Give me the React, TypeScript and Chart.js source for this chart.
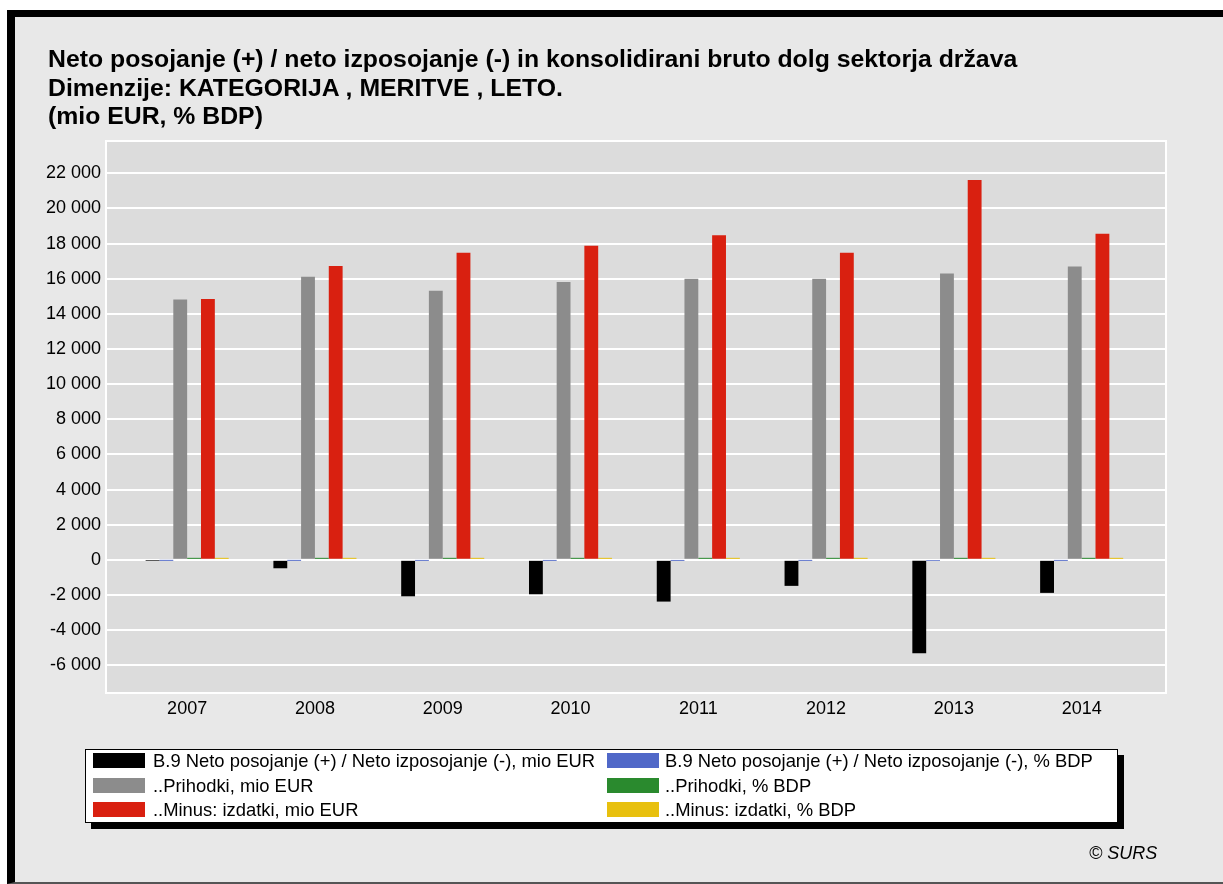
import React, { useEffect, useRef } from "react";
import { Chart, registerables } from "chart.js";

Chart.register(...registerables);

// ---- data ----
const years = ["2007", "2008", "2009", "2010", "2011", "2012", "2013", "2014"];
const netLendingEur = [-20, -480, -2075, -1960, -2377, -1482, -5322, -1881];
const netLendingPct = [-0.1, -1.4, -5.8, -5.6, -6.6, -4.0, -14.7, -5.0];
const revenueEur = [14820, 16110, 15310, 15810, 16000, 16000, 16300, 16700];
const revenuePct = [42.4, 42.4, 42.3, 43.3, 43.6, 44.5, 45.1, 44.8];
const expenditureEur = [14840, 16720, 17480, 17880, 18470, 17480, 21620, 18560];
const expenditurePct = [42.5, 43.8, 48.1, 48.9, 50.2, 48.5, 59.8, 49.8];
const yTickValues = [-6000, -4000, -2000, 0, 2000, 4000, 6000, 8000, 10000, 12000, 14000, 16000, 18000, 20000, 22000];

const seriesLabels = [
  "B.9 Neto posojanje (+) / Neto izposojanje (-), mio EUR",
  "B.9 Neto posojanje (+) / Neto izposojanje (-), % BDP",
  "..Prihodki, mio EUR",
  "..Prihodki, % BDP",
  "..Minus: izdatki, mio EUR",
  "..Minus: izdatki, % BDP",
];
const seriesValues = [netLendingEur, netLendingPct, revenueEur, revenuePct, expenditureEur, expenditurePct];
const seriesColors = ["#000000", "#5068c8", "#8c8c8c", "#2a8a2e", "#d92010", "#e8c00e"];
const seriesMinLen = [0, 0, 0, 2, 0, 2];

const titleLines = [
  "Neto posojanje (+) / neto izposojanje (-) in konsolidirani bruto dolg sektorja država",
  "Dimenzije: KATEGORIJA , MERITVE , LETO.",
  "(mio EUR, % BDP)",
];

const FONT = '"Liberation Sans", Arial, Helvetica, sans-serif';

function fmt(v: number): string {
  const s = Math.abs(v).toString().replace(/\B(?=(\d{3})+(?!\d))/g, " ");
  return (v < 0 ? "-" : "") + s;
}

const plotBg = {
  id: "plotBg",
  beforeDraw(chart: any) {
    const { ctx, chartArea } = chart;
    ctx.save();
    ctx.fillStyle = "#dcdcdc";
    ctx.fillRect(chartArea.left, chartArea.top, chartArea.right - chartArea.left, chartArea.bottom - chartArea.top);
    ctx.restore();
  },
  beforeDatasetsDraw(chart: any) {
    const { ctx, chartArea } = chart;
    ctx.save();
    ctx.strokeStyle = "#ffffff";
    ctx.lineWidth = 2;
    ctx.strokeRect(chartArea.left, chartArea.top, chartArea.right - chartArea.left, chartArea.bottom - chartArea.top);
    ctx.restore();
  },
};

export default function App() {
  const ref = useRef<HTMLCanvasElement>(null);

  useEffect(() => {
    if (!ref.current) return;
    const chart = new Chart(ref.current, {
      type: "bar",
      data: {
        datasets: seriesLabels.map((label, i) => ({
          label,
          data: seriesValues[i].map((v, j) => ({ x: Number(years[j]), y: v })),
          backgroundColor: seriesColors[i],
          borderWidth: 0,
          minBarLength: seriesMinLen[i],
          categoryPercentage: 0.65,
          barPercentage: 1.0,
        })),
      },
      options: {
        responsive: false,
        devicePixelRatio: 1,
        animation: false,
        layout: { padding: { top: 141, right: 57, left: 0, bottom: 0 } },
        plugins: { legend: { display: false }, tooltip: { enabled: false }, title: { display: false } },
        scales: {
          x: {
            type: "linear",
            offset: false,
            min: 2007 - 0.635,
            max: 2014 + 0.66,
            grid: { display: false, drawTicks: false, offset: false },
            border: { display: false },
            afterBuildTicks: (scale: any) => {
              scale.ticks = years.map((y) => ({ value: Number(y) }));
            },
            afterFit: (scale: any) => {
              scale.height = 191;
            },
            ticks: {
              padding: 5,
              color: "#000",
              font: { family: FONT, size: 18 },
              callback: (v: any) => String(v),
            },
          },
          y: {
            min: -7580,
            max: 23840,
            grid: { color: "#ffffff", lineWidth: 2, drawTicks: false },
            border: { display: false },
            afterBuildTicks: (scale: any) => {
              scale.ticks = yTickValues.map((v) => ({ value: v }));
            },
            afterFit: (scale: any) => {
              scale.width = 106;
            },
            ticks: {
              padding: 5,
              color: "#000",
              font: { family: FONT, size: 18 },
              callback: (v: any) => fmt(Number(v)),
            },
          },
        },
      },
      plugins: [plotBg],
    });
    return () => chart.destroy();
  }, []);

  const rowCenters = [760.5, 785.5, 809.5];

  return (
    <div
      style={{
        position: "fixed",
        left: 0,
        top: 0,
        width: 1223,
        height: 884,
        background: "#ffffff",
        overflow: "hidden",
        fontFamily: FONT,
      }}
    >
      <div
        style={{
          position: "absolute",
          left: 7,
          top: 10,
          right: 0,
          bottom: 0,
          background: "#e8e8e8",
          borderLeft: "8px solid #000",
          borderTop: "7px solid #000",
          borderBottom: "2px solid #555",
          boxSizing: "border-box",
        }}
      />
      <canvas ref={ref} width={1223} height={884} style={{ position: "absolute", left: 0, top: 0 }} />
      <div
        style={{
          position: "absolute",
          left: 48,
          top: 45,
          fontWeight: "bold",
          fontSize: 24.8,
          lineHeight: "28.5px",
          color: "#000",
          whiteSpace: "nowrap",
        }}
      >
        {titleLines.map((t, i) => (
          <div key={i}>{t}</div>
        ))}
      </div>
      <div
        style={{
          position: "absolute",
          left: 85,
          top: 749,
          width: 1033,
          height: 74,
          background: "#ffffff",
          border: "1px solid #000",
          boxSizing: "border-box",
          boxShadow: "6px 6px 0 #000",
        }}
      >
        {seriesLabels.map((label, i) => {
          const col = i % 2;
          const row = Math.floor(i / 2);
          const cy = rowCenters[row] - 749;
          const swLeft = col === 0 ? 8 : 522;
          const txLeft = col === 0 ? 68 : 580;
          return (
            <React.Fragment key={i}>
              <div
                style={{
                  position: "absolute",
                  left: swLeft - 1,
                  top: cy - 7.5 - 1,
                  width: 52,
                  height: 15,
                  background: seriesColors[i],
                }}
              />
              <div
                style={{
                  position: "absolute",
                  left: txLeft - 1,
                  top: cy - 11 - 1,
                  height: 22,
                  lineHeight: "22px",
                  fontSize: 18.4,
                  color: "#000",
                  whiteSpace: "nowrap",
                }}
              >
                {label}
              </div>
            </React.Fragment>
          );
        })}
      </div>
      <div
        style={{
          position: "absolute",
          left: 1089,
          top: 842,
          lineHeight: "22px",
          fontSize: 18,
          fontStyle: "italic",
          color: "#000",
          whiteSpace: "nowrap",
        }}
      >
        © SURS
      </div>
    </div>
  );
}
